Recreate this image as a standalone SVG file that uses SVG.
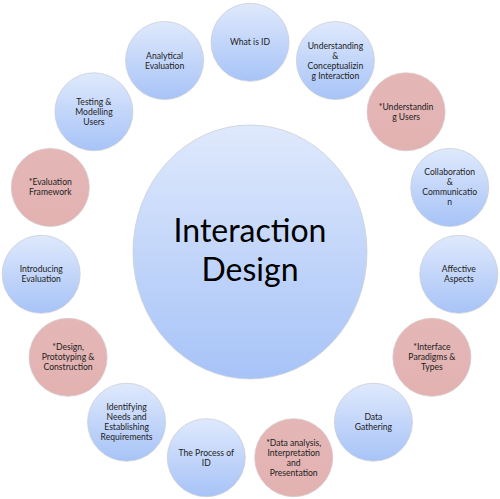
<svg xmlns="http://www.w3.org/2000/svg" width="500" height="499" viewBox="0 0 500 499">
<defs>
<linearGradient id="blue" x1="0" y1="0" x2="0" y2="1">
<stop offset="0" stop-color="#dfe9fc"/>
<stop offset="1" stop-color="#a7c3f7"/>
</linearGradient>
<linearGradient id="pink" x1="0" y1="0" x2="0" y2="1">
<stop offset="0" stop-color="#e4b7b6"/>
<stop offset="1" stop-color="#e2b2b1"/>
</linearGradient>
<style>
.b{fill:url(#blue);stroke:#c9ced8;stroke-width:0.8}
.p{fill:url(#pink);stroke:#d5c9c9;stroke-width:0.8}
.t{font-family:Lato,"Liberation Sans",sans-serif;font-size:8.6px;fill:#222;text-anchor:middle}
.c{font-family:Lato,"Liberation Sans",sans-serif;font-size:32px;fill:#000;text-anchor:middle}
</style>
</defs>
<rect width="500" height="499" fill="#fff"/>
<g id="connectors"/>
<g id="center">
<ellipse class="b" cx="250" cy="252" rx="117" ry="127"/>
<text class="c" x="250" y="242">Interaction</text>
<text class="c" x="250" y="281">Design</text>
</g>
<g id="n0"><circle class="b" cx="250" cy="42.3" r="39"/><text class="t" x="250" y="45.3">What is ID</text></g>
<g id="n1"><circle class="b" cx="335.4" cy="60.5" r="39"/><text class="t" x="335.4" y="48.5">Understanding</text><text class="t" x="335.4" y="58.5">&amp;</text><text class="t" x="335.4" y="68.5">Conceptualizin</text><text class="t" x="335.4" y="78.5">g Interaction</text></g>
<g id="n2"><circle class="p" cx="406.1" cy="111.8" r="39"/><text class="t" x="406.1" y="109.8">*Understandin</text><text class="t" x="406.1" y="119.8">g Users</text></g>
<g id="n3"><circle class="b" cx="449.7" cy="187.4" r="39"/><text class="t" x="449.7" y="175.4">Collaboration</text><text class="t" x="449.7" y="185.4">&amp;</text><text class="t" x="449.7" y="195.4">Communicatio</text><text class="t" x="449.7" y="205.4">n</text></g>
<g id="n4"><circle class="b" cx="458.8" cy="274.3" r="39"/><text class="t" x="458.8" y="272.3">Affective</text><text class="t" x="458.8" y="282.3">Aspects</text></g>
<g id="n5"><circle class="p" cx="431.9" cy="357.3" r="39"/><text class="t" x="431.9" y="350.3">*Interface</text><text class="t" x="431.9" y="360.3">Paradigms &amp;</text><text class="t" x="431.9" y="370.3">Types</text></g>
<g id="n6"><circle class="b" cx="373.4" cy="422.2" r="39"/><text class="t" x="373.4" y="420.2">Data</text><text class="t" x="373.4" y="430.2">Gathering</text></g>
<g id="n7"><circle class="p" cx="293.7" cy="457.7" r="39"/><text class="t" x="293.7" y="445.7">*Data analysis,</text><text class="t" x="293.7" y="455.7">Interpretation</text><text class="t" x="293.7" y="465.7">and</text><text class="t" x="293.7" y="475.7">Presentation</text></g>
<g id="n8"><circle class="b" cx="206.3" cy="457.7" r="39"/><text class="t" x="206.3" y="455.7">The Process of</text><text class="t" x="206.3" y="465.7">ID</text></g>
<g id="n9"><circle class="b" cx="126.6" cy="422.2" r="39"/><text class="t" x="126.6" y="410.2">Identifying</text><text class="t" x="126.6" y="420.2">Needs and</text><text class="t" x="126.6" y="430.2">Establishing</text><text class="t" x="126.6" y="440.2">Requirements</text></g>
<g id="n10"><circle class="p" cx="68.1" cy="357.3" r="39"/><text class="t" x="68.1" y="350.3">*Design,</text><text class="t" x="68.1" y="360.3">Prototyping &amp;</text><text class="t" x="68.1" y="370.3">Construction</text></g>
<g id="n11"><circle class="b" cx="41.2" cy="274.3" r="39"/><text class="t" x="41.2" y="272.3">Introducing</text><text class="t" x="41.2" y="282.3">Evaluation</text></g>
<g id="n12"><circle class="p" cx="50.3" cy="187.4" r="39"/><text class="t" x="50.3" y="185.4">*Evaluation</text><text class="t" x="50.3" y="195.4">Framework</text></g>
<g id="n13"><circle class="b" cx="93.9" cy="111.8" r="39"/><text class="t" x="93.9" y="104.8">Testing &amp;</text><text class="t" x="93.9" y="114.8">Modelling</text><text class="t" x="93.9" y="124.8">Users</text></g>
<g id="n14"><circle class="b" cx="164.6" cy="60.5" r="39"/><text class="t" x="164.6" y="58.5">Analytical</text><text class="t" x="164.6" y="68.5">Evaluation</text></g>
</svg>
